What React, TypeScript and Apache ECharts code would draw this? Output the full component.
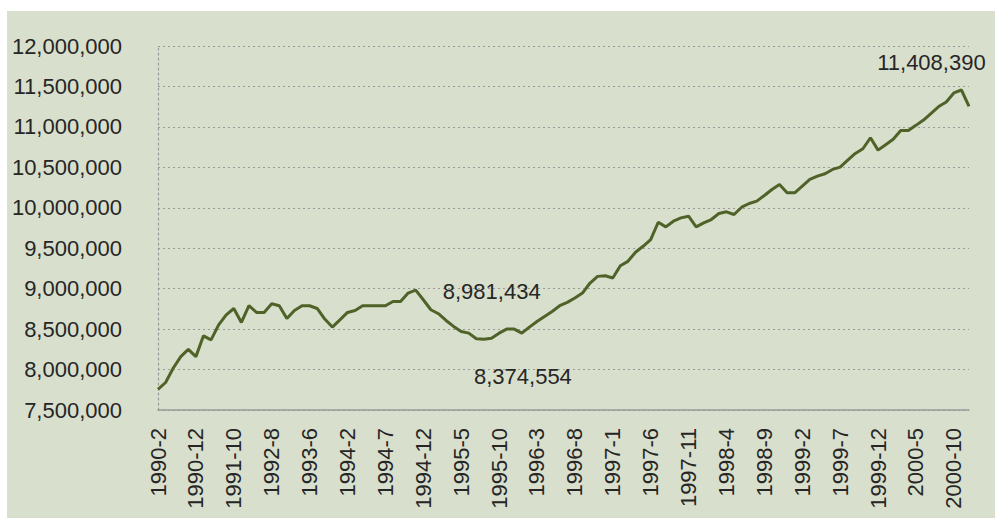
import React, { useEffect, useRef } from "react";
import * as echarts from "echarts";

const categories: string[] = [
  "1990-2", "1990-4", "1990-6", "1990-8", "1990-10", "1990-12",
  "1991-2", "1991-4", "1991-6", "1991-8", "1991-10", "1991-12",
  "1992-2", "1992-4", "1992-6", "1992-8", "1992-10", "1992-12",
  "1993-2", "1993-4", "1993-6", "1993-8", "1993-10", "1993-12",
  "1994-1", "1994-2", "1994-3", "1994-4", "1994-5", "1994-6", "1994-7", "1994-8", "1994-9", "1994-10", "1994-11", "1994-12",
  "1995-1", "1995-2", "1995-3", "1995-4", "1995-5", "1995-6", "1995-7", "1995-8", "1995-9", "1995-10", "1995-11", "1995-12",
  "1996-1", "1996-2", "1996-3", "1996-4", "1996-5", "1996-6", "1996-7", "1996-8", "1996-9", "1996-10", "1996-11", "1996-12",
  "1997-1", "1997-2", "1997-3", "1997-4", "1997-5", "1997-6", "1997-7", "1997-8", "1997-9", "1997-10", "1997-11", "1997-12",
  "1998-1", "1998-2", "1998-3", "1998-4", "1998-5", "1998-6", "1998-7", "1998-8", "1998-9", "1998-10", "1998-11", "1998-12",
  "1999-1", "1999-2", "1999-3", "1999-4", "1999-5", "1999-6", "1999-7", "1999-8", "1999-9", "1999-10", "1999-11", "1999-12",
  "2000-1", "2000-2", "2000-3", "2000-4", "2000-5", "2000-6", "2000-7", "2000-8", "2000-9", "2000-10", "2000-11", "2000-12",
];

const values: number[] = [
  7756000, 7840000, 8016000, 8160000, 8250000, 8160000,
  8417000, 8367000, 8553000, 8677000, 8755000, 8582000,
  8789000, 8706000, 8706000, 8813000, 8789000, 8632000,
  8731000, 8789000, 8789000, 8755000, 8624000, 8525000,
  8615000, 8706000, 8731000, 8789000, 8789000, 8789000, 8789000, 8842000, 8842000, 8946000, 8981434, 8863000,
  8739000, 8690000, 8607000, 8533000, 8470000, 8450000, 8380000, 8374554, 8388000, 8450000, 8500000, 8500000,
  8450000, 8525000, 8594000, 8656000, 8718000, 8789000, 8830000, 8884000, 8946000, 9070000, 9152000, 9160000,
  9132000, 9284000, 9338000, 9450000, 9524000, 9607000, 9821000, 9764000, 9834000, 9875000, 9896000, 9764000,
  9813000, 9855000, 9929000, 9950000, 9917000, 10007000, 10053000, 10082000, 10152000, 10226000, 10288000, 10185000,
  10185000, 10267000, 10350000, 10391000, 10420000, 10474000, 10502000, 10589000, 10672000, 10730000, 10866000, 10713000,
  10780000, 10846000, 10955000, 10955000, 11019000, 11085000, 11168000, 11251000, 11308000, 11420000, 11456000, 11255000,
];

const yMin = 7500000;
const yMax = 12000000;
const yInterval = 500000;

const annotationIndices: number[] = [34, 43, 106];
const annotationTexts: string[] = ["8,981,434", "8,374,554", "11,408,390"];

const fmt = (v: number) => String(Math.round(v)).replace(/\B(?=(\d{3})+(?!\d))/g, ",");

export default function App() {
  const ref = useRef<HTMLDivElement>(null);

  useEffect(() => {
    if (!ref.current) return;
    const chart = echarts.init(ref.current, null, { renderer: "svg" });
    const font = "'Liberation Sans', Arial, Helvetica, sans-serif";
    const textColor = "#262626";
    const lineColor = "#4f6228";
    const offsets: Record<number, [number, number]> = {
      34: [76, 1],
      43: [39, 37],
      106: [-30, -28],
    };

    const seriesData = values.map((v, i) => {
      const k = annotationIndices.indexOf(i);
      if (k < 0) return v;
      return {
        value: v,
        label: {
          show: true,
          position: "inside",
          offset: offsets[i],
          formatter: annotationTexts[k],
          fontSize: 22,
          fontFamily: font,
          color: textColor,
        },
      };
    });

    chart.setOption({
      animation: false,
      backgroundColor: "#d9dfcd",
      grid: { left: 151, right: 26, top: 35, bottom: 108, containLabel: false },
      xAxis: {
        type: "category",
        data: categories,
        boundaryGap: false,
        axisLine: { show: true, lineStyle: { color: "#9a9a9a", width: 1.5 } },
        axisTick: { show: false },
        axisLabel: {
          interval: 4,
          rotate: 90,
          margin: 18,
          fontSize: 22,
          fontFamily: font,
          color: textColor,
        },
        splitLine: { show: false },
      },
      yAxis: {
        type: "value",
        min: yMin,
        max: yMax,
        interval: yInterval,
        axisLine: { show: true, lineStyle: { color: "#9a9a9a", width: 1.2, type: [2, 3] } },
        axisTick: { show: false },
        axisLabel: {
          margin: 36,
          fontSize: 22,
          fontFamily: font,
          color: textColor,
          formatter: (v: number) => fmt(v),
        },
        splitLine: { show: true, lineStyle: { color: "#9a9a9a", width: 1.2, type: [2, 3] } },
      },
      series: [
        {
          type: "line",
          data: seriesData,
          showSymbol: true,
          symbol: "circle",
          symbolSize: 0,
          lineStyle: { color: lineColor, width: 3 },
          itemStyle: { color: lineColor },
          label: { show: false },
          emphasis: { disabled: true },
        },
      ],
    });

    return () => chart.dispose();
  }, []);

  return (
    <div style={{ position: "fixed", left: 0, top: 0, width: 996, height: 518, background: "#ffffff" }}>
      <div ref={ref} style={{ position: "absolute", left: 7, top: 11, width: 988, height: 507 }} />
    </div>
  );
}
